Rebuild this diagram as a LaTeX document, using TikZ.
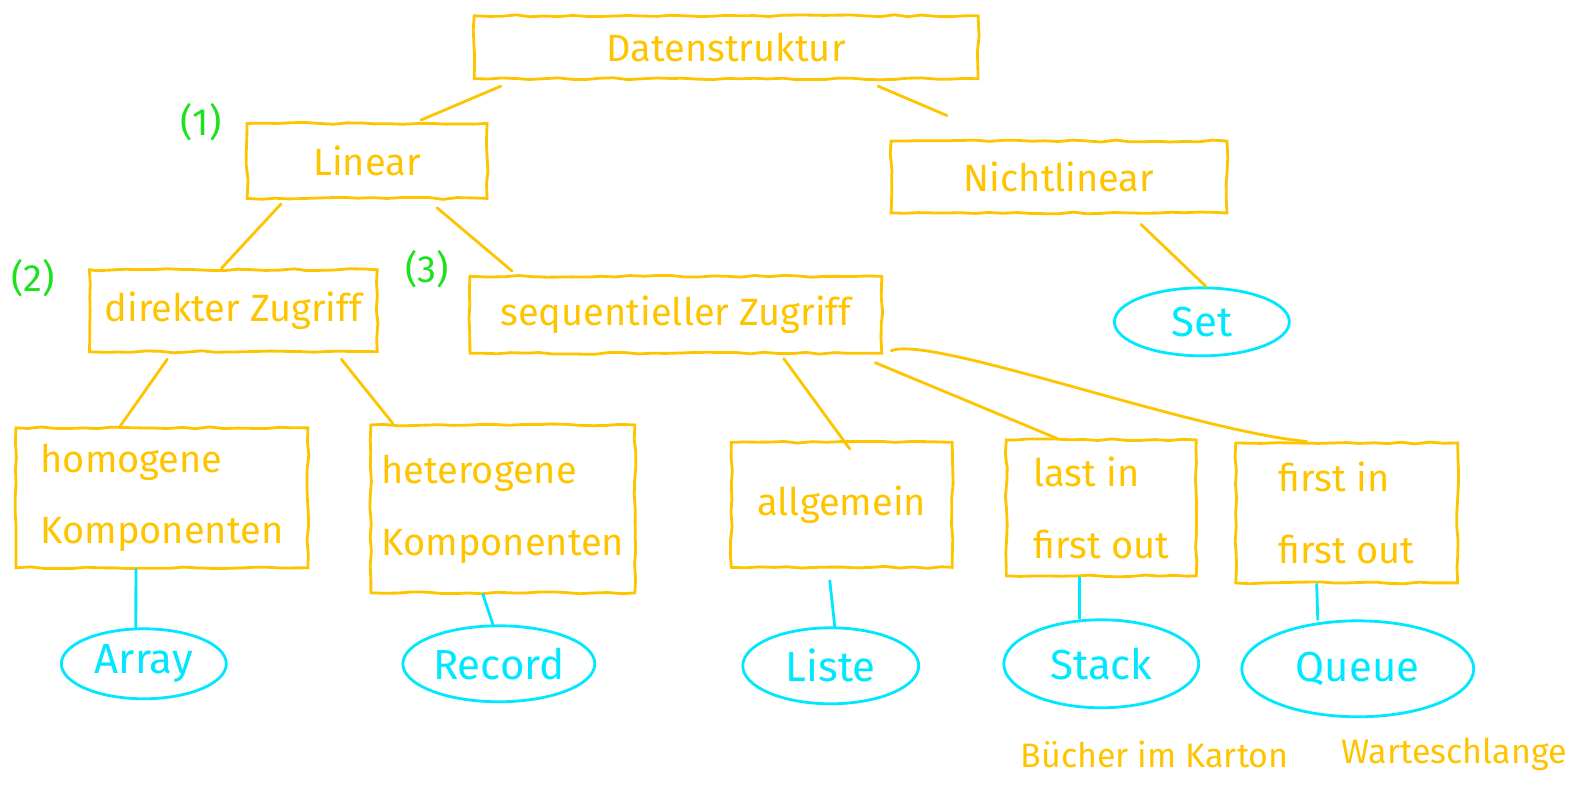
\documentclass[tikz,border=0pt]{standalone}
\usepackage{fontspec}
\setmainfont{Fira Sans}
\usetikzlibrary{shapes.geometric,decorations.pathmorphing}
\definecolor{org}{RGB}{255,196,0}
\definecolor{cyn}{RGB}{0,232,255}
\definecolor{grn}{RGB}{30,225,30}
\begin{document}
\begin{tikzpicture}[x=0.503pt,y=-0.503pt,
  wob/.style={decorate,decoration={random steps,segment length=7pt,amplitude=0.5pt}},
  box/.style={draw=org,line width=1.4pt,text=org,inner sep=0pt,font=\fontsize{19}{36}\selectfont,wob},
  oval/.style={ellipse,draw=cyn,line width=1.4pt,text=cyn,inner sep=0pt,font=\fontsize{21}{25}\selectfont},
  con/.style={draw=org,line width=1.4pt,line cap=round},
  ccon/.style={draw=cyn,line width=1.4pt,line cap=round},
  num/.style={text=grn,font=\fontsize{19}{22}\selectfont},
  note/.style={text=org,font=\fontsize{17}{20}\selectfont}]
\useasboundingbox (0,0) rectangle (1568,782);
% orange boxes
\node[box,minimum width=252pt,minimum height=31.5pt] (ds) at (722,47) {Datenstruktur};
\node[box,minimum width=120pt,minimum height=37.5pt] (lin) at (365,160) {Linear};
\node[box,minimum width=168pt,minimum height=36pt] (nl) at (1053,176) {Nichtlinear};
\node[box,minimum width=144pt,minimum height=41pt] (dz) at (232,309) {direkter Zugriff};
\node[box,minimum width=206pt,minimum height=38.5pt] (sz) at (672,313) {sequentieller Zugriff};
\node[box,minimum width=146pt,minimum height=70pt,align=left] (hom) at (161,495) {homogene\\Komponenten};
\node[box,minimum width=132pt,minimum height=84pt,align=left] (het) at (500,506) {heterogene\\Komponenten};
\node[box,minimum width=110.5pt,minimum height=62.5pt] (allg) at (837,502) {allgemein};
\node[box,minimum width=95pt,minimum height=68pt,align=left] (lifo) at (1095,505) {last in\\first out};
\node[box,minimum width=111pt,minimum height=70pt,align=left] (fifo) at (1339,510) {first in\\first out};
% cyan ellipses
\node[oval,minimum width=87.5pt,minimum height=34pt] (set) at (1195,320) {Set};
\node[oval,minimum width=82.5pt,minimum height=35pt] (arr) at (143,660) {Array};
\node[oval,minimum width=96pt,minimum height=38pt] (rec) at (496,660) {Record};
\node[oval,minimum width=88pt,minimum height=38pt] (lst) at (826,662) {Liste};
\node[oval,minimum width=97.5pt,minimum height=44pt] (stk) at (1095,660) {Stack};
\node[oval,minimum width=116pt,minimum height=48pt] (que) at (1350,665) {Queue};
% green numbers
\node[num] (n1) at (200,122) {(1)};
\node[num] (n2) at (33,277) {(2)};
\node[num] (n3) at (425,268) {(3)};
% notes
\node[note] (bk) at (1148,750) {Bücher im Karton};
\node[note] (ws) at (1446,750) {Warteschlange};
% orange connectors
\draw[con] ([xshift=14pt,yshift=-3pt]ds.south west) -- ([xshift=27pt,yshift=1pt]lin.north);
\draw[con] ([xshift=76pt,yshift=-3pt]ds.south) -- ([xshift=-56pt,yshift=12pt]nl.north);
\draw[con] ([xshift=-43pt,yshift=-2pt]lin.south) -- ([xshift=-6pt]dz.north);
\draw[con] ([xshift=35pt,yshift=-4pt]lin.south) -- ([xshift=-82pt,yshift=2pt]sz.north);
\draw[con] ([xshift=41pt,yshift=-5pt]nl.south) -- ([xshift=2pt]set.north);
\draw[con] ([xshift=-33pt,yshift=-3pt]dz.south) -- ([xshift=-21pt]hom.north);
\draw[con] ([xshift=54pt,yshift=-3pt]dz.south) -- ([xshift=-55pt]het.north);
\draw[con] ([xshift=54pt,yshift=-2pt]sz.south) -- ([xshift=4pt,yshift=-4pt]allg.north);
\draw[con] ([xshift=-4pt,yshift=-4pt]sz.south east) -- ([xshift=-22pt]lifo.north);
\draw[con] ([xshift=4pt,yshift=2pt]sz.south east) .. controls ++(20pt,8pt) and ++(-60pt,6pt) .. ([xshift=-20pt]fifo.north);
% cyan connectors
\draw[ccon] ([xshift=-13pt]hom.south) -- ([xshift=-4pt]arr.north);
\draw[ccon] ([xshift=-10pt]het.south) -- ([xshift=-3pt]rec.north);
\draw[ccon] ([xshift=-6pt,yshift=-6pt]allg.south) -- ([xshift=2pt]lst.north);
\draw[ccon] ([xshift=-11pt]lifo.south) -- ([xshift=-11pt]stk.north);
\draw[ccon] ([xshift=-15pt]fifo.south) -- ([xshift=-20pt]que.north);
\end{tikzpicture}
\end{document}
